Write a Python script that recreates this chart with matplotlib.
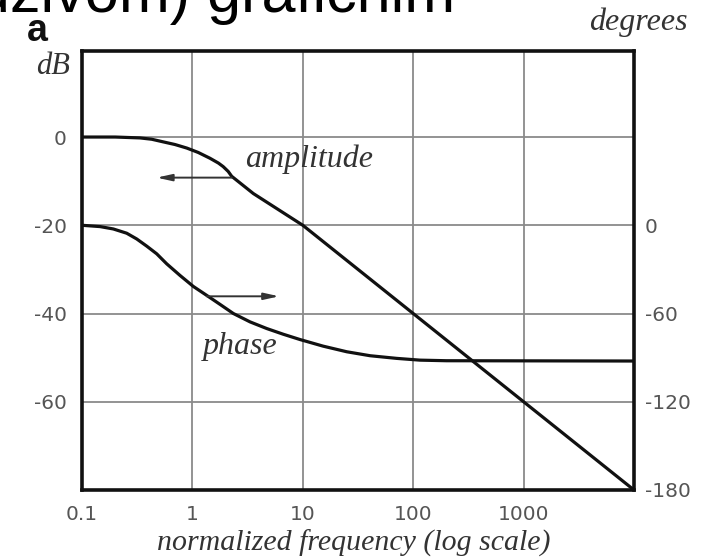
import numpy as np
import matplotlib.pyplot as plt
from matplotlib.ticker import NullLocator, FixedLocator

# amplitude response (dB) and phase (degrees) vs normalized frequency
amp_freq = [0.1, 0.2, 0.335, 0.428, 0.545, 0.696, 0.89, 1.13, 1.44, 1.72, 1.9, 2.11,
            2.27, 3.56, 10, 100, 1000, 10000]
amp_db = [0, 0, -0.2, -0.5, -1.1, -1.7, -2.5, -3.5, -4.8, -5.9, -6.7, -7.8,
          -8.9, -12.8, -20, -40, -60, -80]

phase_freq = [0.1, 0.146, 0.192, 0.254, 0.313, 0.386, 0.475, 0.585, 0.772, 1.02, 1.35,
              1.78, 2.35, 3.33, 4.71, 6.66, 9.44, 15.3, 25, 40.7, 70.8, 115, 200, 10000]
phase_deg = [0, -0.9, -2.5, -5.4, -9.3, -14.2, -19.4, -26.2, -34.1, -41.6, -47.7,
             -53.8, -60, -65.7, -70.2, -74.1, -77.7, -82.2, -86, -88.7, -90.5, -91.7,
             -92.1, -92.3]

freq_ticks = [0.1, 1, 10, 100, 1000, 10000]
freq_labels = ['0.1', '1', '10', '100', '1000', '']
db_ticks = [0, -20, -40, -60]
deg_ticks = [0, -60, -120, -180]

serif = 'Liberation Serif'
tick_col = '#555555'
text_col = '#333333'

W, H = 704, 558
fig = plt.figure(figsize=(W / 100, H / 100), dpi=100)
left, right, top, bottom = 82, 634, 51, 490
ax = fig.add_axes([left / W, 1 - bottom / H, (right - left) / W, (bottom - top) / H])

ax.set_xscale('log')
ax.set_xlim(0.1, 10000)
ax.set_ylim(-80, 19.5)
ax.xaxis.set_major_locator(FixedLocator(freq_ticks))
ax.xaxis.set_minor_locator(NullLocator())
ax.set_xticklabels(freq_labels)
ax.set_yticks(db_ticks)
ax.set_yticklabels([str(v) for v in db_ticks])
ax.grid(True, color='#8a8a8a', lw=1.3)
ax.tick_params(axis='both', length=0, labelsize=14.5, labelcolor=tick_col)
ax.tick_params(axis='x', pad=11)
ax.tick_params(axis='y', pad=11)
for sp in ax.spines.values():
    sp.set_linewidth(2.6)
    sp.set_color('#111111')

ax.plot(amp_freq, amp_db, color='#111111', lw=2.3, solid_joinstyle='round')

# phase on a second scale: 0 deg sits on -20 dB, 60 deg per 20 dB
ax2 = ax.twinx()
ax2.set_ylim(-180, (19.5 + 20) * 3)
ax2.set_yticks(deg_ticks)
ax2.set_yticklabels([str(v) for v in deg_ticks])
ax2.tick_params(axis='y', length=0, labelsize=14.5, labelcolor=tick_col, pad=8)
for sp in ax2.spines.values():
    sp.set_visible(False)
ax2.plot(phase_freq, phase_deg, color='#111111', lw=2.3, solid_joinstyle='round')

# arrows pointing at the matching scale
ax.annotate('', xy=(0.475, -9.2), xytext=(2.27, -9.2),
            arrowprops=dict(arrowstyle='-|>,head_length=0.9,head_width=0.2',
                            color=text_col, lw=1.4, shrinkA=0, shrinkB=0))
ax2.annotate('', xy=(6.1, -48.3), xytext=(1.35, -48.3),
             arrowprops=dict(arrowstyle='-|>,head_length=0.9,head_width=0.2',
                             color=text_col, lw=1.4, shrinkA=0, shrinkB=0))

ax.text(11.4, -5.1, 'amplitude', family=serif, style='italic', fontsize=23,
        color=text_col, ha='center', va='center')
ax.text(2.73, -47.5, 'phase', family=serif, style='italic', fontsize=23,
        color=text_col, ha='center', va='center')

fig.text(70 / W, 1 - 67 / H, 'dB', family=serif, style='italic', fontsize=22,
         color=text_col, ha='right', va='center')
fig.text(688 / W, 1 - 22 / H, 'degrees', family=serif, style='italic', fontsize=23,
         color=text_col, ha='right', va='center')
fig.text(354 / W, 1 - 543 / H, 'normalized frequency (log scale)', family=serif,
         style='italic', fontsize=21.5, color=text_col, ha='center', va='center')

fig.text(27 / W, 1 - 41 / H, 'a', family='Liberation Sans', weight='bold',
         fontsize=27, color='#111111', ha='left', va='baseline')

# slide caption running off the top edge
fig.text(-24 / W, 1 - 12 / H, 'uživom) grafičnim', family='Liberation Sans',
         fontsize=44, color='black', ha='left', va='baseline')

fig.savefig('out.png', dpi=100)
